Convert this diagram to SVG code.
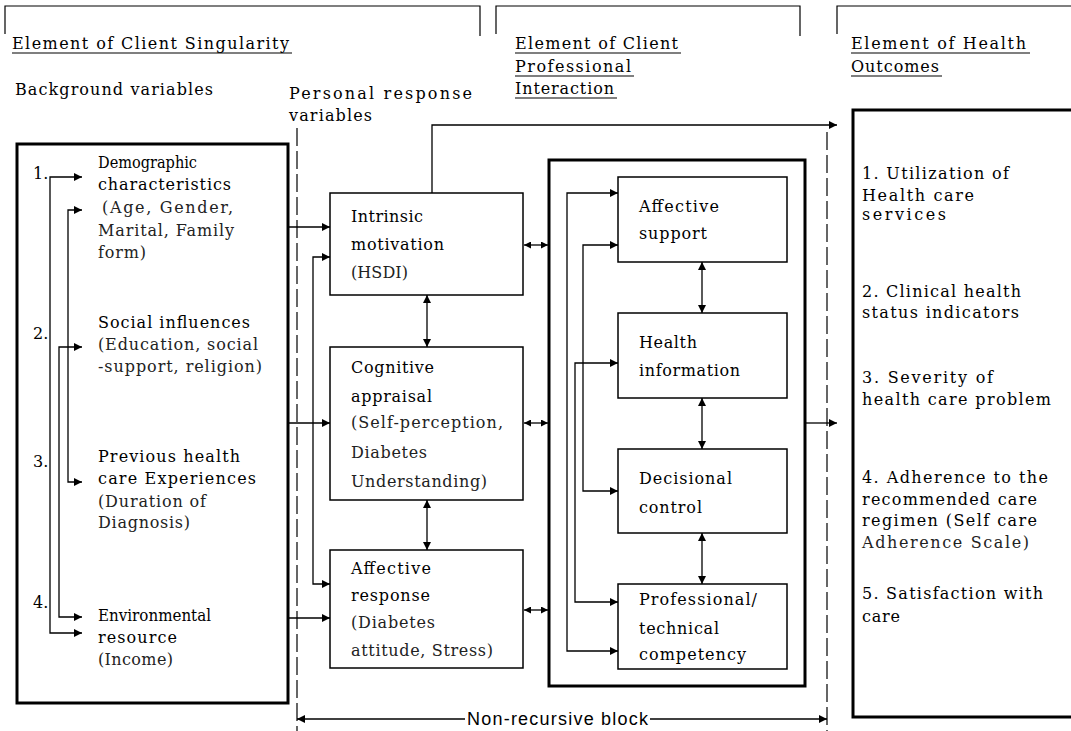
<svg xmlns="http://www.w3.org/2000/svg" width="1071" height="731" viewBox="0 0 1071 731">
<style>
.t{font-family:"DejaVu Serif","Liberation Serif",serif;font-size:16px;fill:#000}
.lt{fill:#222}
.h{font-family:"DejaVu Serif","Liberation Serif",serif;font-size:16px;fill:#000}
.s{font-family:"Liberation Sans",Arial,sans-serif;font-size:18px;fill:#000}
.box{fill:#fff;stroke:#000;stroke-width:1.5}
.thick{fill:none;stroke:#000;stroke-width:3}
.c{fill:none;stroke:#000;stroke-width:1.3}
.ul{stroke:#000;stroke-width:1.2}
.br{fill:none;stroke:#000;stroke-width:1.2}
.dash{fill:none;stroke:#000;stroke-width:1.2;stroke-dasharray:18 5}
</style>
<defs>
<marker id="ah" viewBox="0 0 10 10" refX="10" refY="5" markerWidth="9" markerHeight="8" markerUnits="userSpaceOnUse" orient="auto-start-reverse"><path d="M0,0 L10,5 L0,10 z" fill="#000"/></marker>
<marker id="ah2" viewBox="0 0 10 10" refX="10" refY="5" markerWidth="8" markerHeight="7" markerUnits="userSpaceOnUse" orient="auto-start-reverse"><path d="M0,0 L10,5 L0,10 z" fill="#000"/></marker>
</defs>

<g id="headers">
<path class="br" d="M5,34 V6 H480 V36"/>
<path class="br" d="M496,34 V6 H800 V36"/>
<path class="br" d="M837,34 V6 H1071"/>
<text class="h" x="12" y="49" textLength="277" lengthAdjust="spacing">Element of Client Singularity</text>
<line class="ul" x1="12" y1="53" x2="292" y2="53"/>
<text class="h" x="15" y="95" textLength="198" lengthAdjust="spacing">Background variables</text>
<text class="h" x="289" y="99" textLength="183" lengthAdjust="spacing">Personal response</text>
<text class="h" x="289" y="121" textLength="83" lengthAdjust="spacing">variables</text>
<text class="h" x="515" y="49" textLength="163" lengthAdjust="spacing">Element of Client</text>
<line class="ul" x1="515" y1="53" x2="681" y2="53"/>
<text class="h" x="515" y="72" textLength="116" lengthAdjust="spacing">Professional</text>
<line class="ul" x1="515" y1="76" x2="634" y2="76"/>
<text class="h" x="515" y="94" textLength="99" lengthAdjust="spacing">Interaction</text>
<line class="ul" x1="515" y1="98" x2="617" y2="98"/>
<text class="h" x="851" y="49" textLength="175" lengthAdjust="spacing">Element of Health</text>
<line class="ul" x1="851" y1="53" x2="1030" y2="53"/>
<text class="h" x="851" y="72" textLength="88" lengthAdjust="spacing">Outcomes</text>
<line class="ul" x1="851" y1="76" x2="942" y2="76"/>
</g>

<g id="background">
<rect class="thick" x="17" y="144" width="271" height="559"/>
<text class="t" x="33" y="179">1.</text>
<text class="t" x="33" y="339">2.</text>
<text class="t" x="33" y="467">3.</text>
<text class="t" x="33" y="608">4.</text>
<text class="t" x="98" y="168" textLength="99" lengthAdjust="spacingAndGlyphs">Demographic</text>
<text class="t" x="98" y="190" textLength="133" lengthAdjust="spacing">characteristics</text>
<text class="t lt" x="102" y="213" textLength="131" lengthAdjust="spacing">(Age, Gender,</text>
<text class="t lt" x="98" y="236" textLength="136" lengthAdjust="spacing">Marital, Family</text>
<text class="t lt" x="98" y="258" textLength="48" lengthAdjust="spacing">form)</text>
<text class="t" x="98" y="328" textLength="152" lengthAdjust="spacing">Social influences</text>
<text class="t lt" x="98" y="350" textLength="160" lengthAdjust="spacing">(Education, social</text>
<text class="t lt" x="98" y="372" textLength="164" lengthAdjust="spacing">-support, religion)</text>
<text class="t" x="98" y="462" textLength="142" lengthAdjust="spacing">Previous health</text>
<text class="t" x="98" y="484" textLength="158" lengthAdjust="spacing">care Experiences</text>
<text class="t lt" x="98" y="507" textLength="108" lengthAdjust="spacing">(Duration of</text>
<text class="t lt" x="98" y="528" textLength="92" lengthAdjust="spacing">Diagnosis)</text>
<text class="t" x="98" y="621" textLength="113" lengthAdjust="spacingAndGlyphs">Environmental</text>
<text class="t" x="98" y="643" textLength="79" lengthAdjust="spacing">resource</text>
<text class="t lt" x="98" y="665" textLength="75" lengthAdjust="spacing">(Income)</text>
</g>

<g id="intrinsic">
<rect class="box" x="330" y="193" width="193" height="102"/>
<text class="t" x="351" y="222" textLength="72" lengthAdjust="spacing">Intrinsic</text>
<text class="t" x="351" y="250" textLength="93" lengthAdjust="spacing">motivation</text>
<text class="t lt" x="351" y="278" textLength="57" lengthAdjust="spacing">(HSDI)</text>
</g>
<g id="cognitive">
<rect class="box" x="330" y="347" width="193" height="153"/>
<text class="t" x="351" y="373" textLength="83" lengthAdjust="spacing">Cognitive</text>
<text class="t" x="351" y="402" textLength="81" lengthAdjust="spacing">appraisal</text>
<text class="t lt" x="351" y="428" textLength="152" lengthAdjust="spacing">(Self-perception,</text>
<text class="t lt" x="351" y="458" textLength="76" lengthAdjust="spacing">Diabetes</text>
<text class="t lt" x="351" y="487" textLength="136" lengthAdjust="spacing">Understanding)</text>
</g>
<g id="affective-response">
<rect class="box" x="330" y="550" width="193" height="118"/>
<text class="t" x="351" y="574" textLength="80" lengthAdjust="spacing">Affective</text>
<text class="t" x="351" y="601" textLength="79" lengthAdjust="spacing">response</text>
<text class="t lt" x="351" y="628" textLength="84" lengthAdjust="spacing">(Diabetes</text>
<text class="t lt" x="351" y="656" textLength="142" lengthAdjust="spacing">attitude, Stress)</text>
</g>

<g id="interaction">
<rect class="thick" x="549" y="160" width="256" height="526"/>
</g>
<g id="affective-support">
<rect class="box" x="618" y="177" width="169" height="85"/>
<text class="t" x="639" y="212" textLength="80" lengthAdjust="spacing">Affective</text>
<text class="t" x="639" y="239" textLength="68" lengthAdjust="spacing">support</text>
</g>
<g id="health-information">
<rect class="box" x="618" y="313" width="169" height="85"/>
<text class="t" x="639" y="348" textLength="58" lengthAdjust="spacing">Health</text>
<text class="t" x="639" y="376" textLength="101" lengthAdjust="spacing">information</text>
</g>
<g id="decisional-control">
<rect class="box" x="618" y="449" width="169" height="84"/>
<text class="t" x="639" y="484" textLength="93" lengthAdjust="spacing">Decisional</text>
<text class="t" x="639" y="513" textLength="63" lengthAdjust="spacing">control</text>
</g>
<g id="professional">
<rect class="box" x="618" y="584" width="169" height="85"/>
<text class="t" x="639" y="605" textLength="118" lengthAdjust="spacing">Professional/</text>
<text class="t" x="639" y="634" textLength="80" lengthAdjust="spacing">technical</text>
<text class="t" x="639" y="660" textLength="107" lengthAdjust="spacing">competency</text>
</g>

<g id="outcomes">
<path class="thick" d="M1075,110 H853 V717 H1075"/>
<text class="t" x="862" y="179" textLength="147" lengthAdjust="spacing">1. Utilization of</text>
<text class="t" x="862" y="201" textLength="112" lengthAdjust="spacing">Health care</text>
<text class="t" x="862" y="220" textLength="84" lengthAdjust="spacing">services</text>
<text class="t" x="862" y="297" textLength="159" lengthAdjust="spacing">2. Clinical health</text>
<text class="t" x="862" y="318" textLength="157" lengthAdjust="spacing">status indicators</text>
<text class="t" x="862" y="383" textLength="131" lengthAdjust="spacing">3. Severity of</text>
<text class="t" x="862" y="405" textLength="189" lengthAdjust="spacing">health care problem</text>
<text class="t" x="862" y="483" textLength="186" lengthAdjust="spacing">4. Adherence to the</text>
<text class="t" x="862" y="505" textLength="175" lengthAdjust="spacing">recommended care</text>
<text class="t" x="862" y="526" textLength="175" lengthAdjust="spacing">regimen (Self care</text>
<text class="t lt" x="862" y="548" textLength="167" lengthAdjust="spacing">Adherence Scale)</text>
<text class="t" x="862" y="599" textLength="181" lengthAdjust="spacing">5. Satisfaction with</text>
<text class="t" x="862" y="622" textLength="38" lengthAdjust="spacing">care</text>
</g>

<g id="connectors">
<line class="dash" x1="297" y1="128" x2="297" y2="731"/>
<line class="dash" x1="827" y1="132" x2="827" y2="731"/>
<path class="c" d="M82,177 H50 V633 H82" marker-start="url(#ah)" marker-end="url(#ah)"/>
<path class="c" d="M82,210 H68 V482 H82" marker-start="url(#ah)" marker-end="url(#ah)"/>
<path class="c" d="M82,347 H59 V617 H82" marker-start="url(#ah)" marker-end="url(#ah)"/>
<path class="c" d="M288,227 H330" marker-end="url(#ah)"/>
<path class="c" d="M288,423 H330" marker-end="url(#ah)"/>
<path class="c" d="M288,618 H330" marker-end="url(#ah)"/>
<path class="c" d="M330,257 H313 V584 H330" marker-start="url(#ah)" marker-end="url(#ah)"/>
<path class="c" d="M427,295 V347" marker-start="url(#ah)" marker-end="url(#ah)"/>
<path class="c" d="M427,500 V550" marker-start="url(#ah)" marker-end="url(#ah)"/>
<path class="c" d="M524,245 H548" marker-start="url(#ah2)" marker-end="url(#ah2)"/>
<path class="c" d="M524,423 H548" marker-start="url(#ah2)" marker-end="url(#ah2)"/>
<path class="c" d="M524,610 H548" marker-start="url(#ah2)" marker-end="url(#ah2)"/>
<path class="c" d="M432,193 V125 H837" marker-end="url(#ah)"/>
<path class="c" d="M618,193 H567 V651 H618" marker-start="url(#ah)" marker-end="url(#ah)"/>
<path class="c" d="M618,245 H583 V491 H618" marker-start="url(#ah)" marker-end="url(#ah)"/>
<path class="c" d="M618,363 H575 V602 H618" marker-start="url(#ah)" marker-end="url(#ah)"/>
<path class="c" d="M702,262 V313" marker-start="url(#ah)" marker-end="url(#ah)"/>
<path class="c" d="M702,398 V449" marker-start="url(#ah)" marker-end="url(#ah)"/>
<path class="c" d="M702,533 V584" marker-start="url(#ah)" marker-end="url(#ah)"/>
<path class="c" d="M805,423 H837" marker-end="url(#ah)"/>
<path class="c" d="M465,719 H297" marker-end="url(#ah)"/>
<path class="c" d="M650,719 H827" marker-end="url(#ah)"/>
<text class="s" x="467" y="725" textLength="181" lengthAdjust="spacing">Non-recursive block</text>
</g>
</svg>
